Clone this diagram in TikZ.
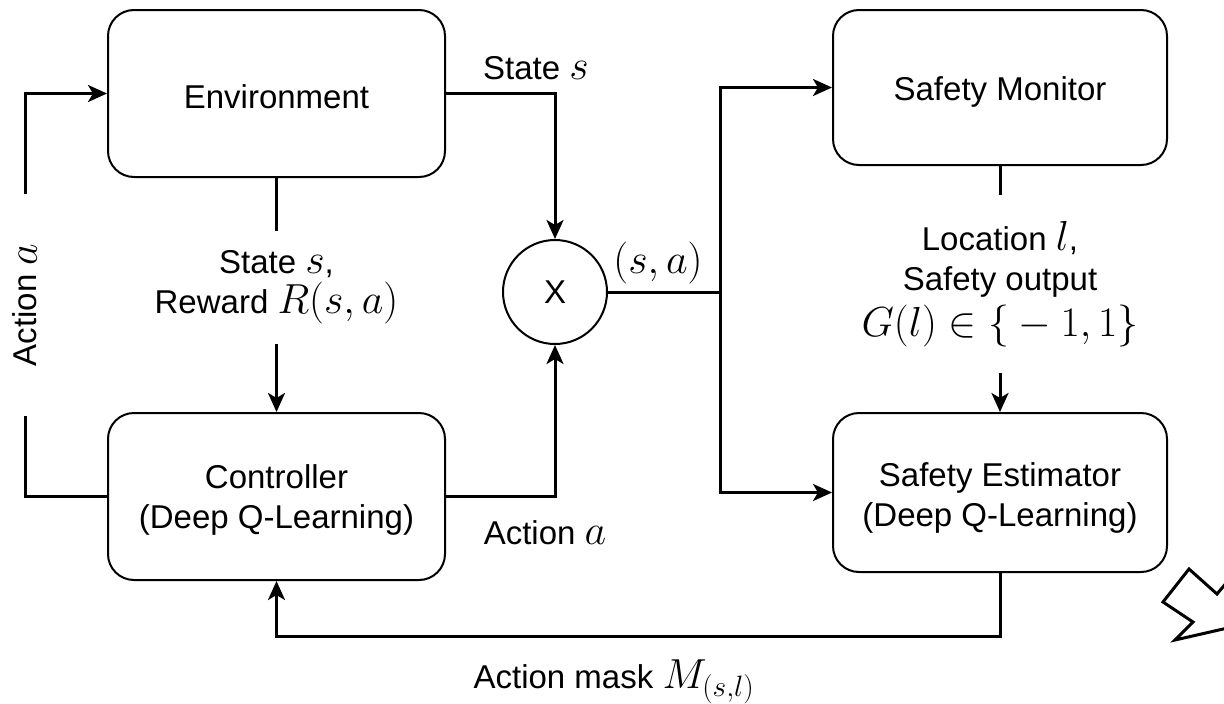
\RequirePackage{fix-cm}
\documentclass[tikz,border=0pt]{standalone}
\usepackage{fontspec}
\setmainfont{Liberation Sans}
\usetikzlibrary{arrows.meta}
\newcommand\mth[1]{{\fontsize{42}{44}\selectfont$#1$}}
\begin{document}
\begin{tikzpicture}[x=1pt,y=-1pt,
  box/.style={draw, line width=2pt, rounded corners=26pt},
  txt/.style={align=center, font=\fontsize{33}{40}\selectfont, inner sep=0pt},
  lbl/.style={txt},
  gaplbl/.style={lbl, fill=white},
  conn/.style={line width=3pt, -{Stealth[length=19pt,width=17pt,inset=5pt]}},
  wire/.style={line width=3pt}
]
\useasboundingbox (0,0) rectangle (1224,704);

\node[box, minimum width=337pt, minimum height=167pt] (env) at (276.5,93.5) {};
\node[txt] (envt) at (276.5,97) {Environment};
\node[box, minimum width=337pt, minimum height=167pt] (ctrl) at (276.5,496.5) {};
\node[txt] (ctrlt) at (276.5,500) {Controller\\(Deep Q-Learning)};
\node[box, minimum width=334pt, minimum height=155pt] (mon) at (1000,87.5) {};
\node[txt] (mont) at (1000,92) {Safety Monitor};
\node[box, minimum width=334pt, minimum height=159pt] (est) at (1000,492.5) {};
\node[txt] (estt) at (1000,498) {Safety Estimator\\(Deep Q-Learning)};
\node[draw, circle, line width=2pt, minimum size=104pt, inner sep=0pt,
  font=\fontsize{33}{40}\selectfont] (x) at (555,292) {X};

\coordinate (j) at (720,292);

% env -> X
\draw[conn] (env.east) -| (x.north);
\node[lbl] (ls) at (536,68) {State \mth{s}};
% ctrl -> X
\draw[conn] (ctrl.east) -| (x.south);
\node[lbl] (la) at (545,533) {Action \mth{a}};
% X -> junction
\draw[wire] (x.east) -- (j);
\node[lbl] (lsa) at (658,263) {\mth{(s,a)}};
\draw[conn] (j) |- (mon.west);
\draw[conn] (j) |- (est.west);

% env -> ctrl
\draw[conn] (env.south) -- (ctrl.north)
  node[gaplbl, pos=0.467, inner ysep=20pt] (lsr) {State \mth{s},\\Reward \mth{R(s,a)}};

% ctrl -> env loop
\coordinate (lc) at (25,496.5);
\draw[conn] (ctrl.west) -- (lc) |- (env.west);
\node[gaplbl, rotate=90, inner xsep=50pt, inner ysep=4pt] (lact) at (25,305) {Action \mth{a}};

% monitor -> estimator
\draw[conn] (mon.south) -- (est.north)
  node[gaplbl, pos=0.48, inner ysep=26pt] (lloc) {Location \mth{l},\\Safety output\\[6pt]\mth{G(l)\in\{{}-1,1\}}};

% estimator -> ctrl (mask)
\coordinate (mb) at (1000,636);
\draw[conn] (est.south) -- (mb) -| (ctrl.south);
\node[lbl] (lm) at (614,682) {Action mask \mth{M_{(s,l)}}};

% partial outline arrow at bottom right
\draw[line width=3pt, line join=miter]
  (1232,576) -- (1217,594) -- (1189,569) -- (1163,602) -- (1193,622)
  -- (1175,640) -- (1232,627);
\end{tikzpicture}
\end{document}
